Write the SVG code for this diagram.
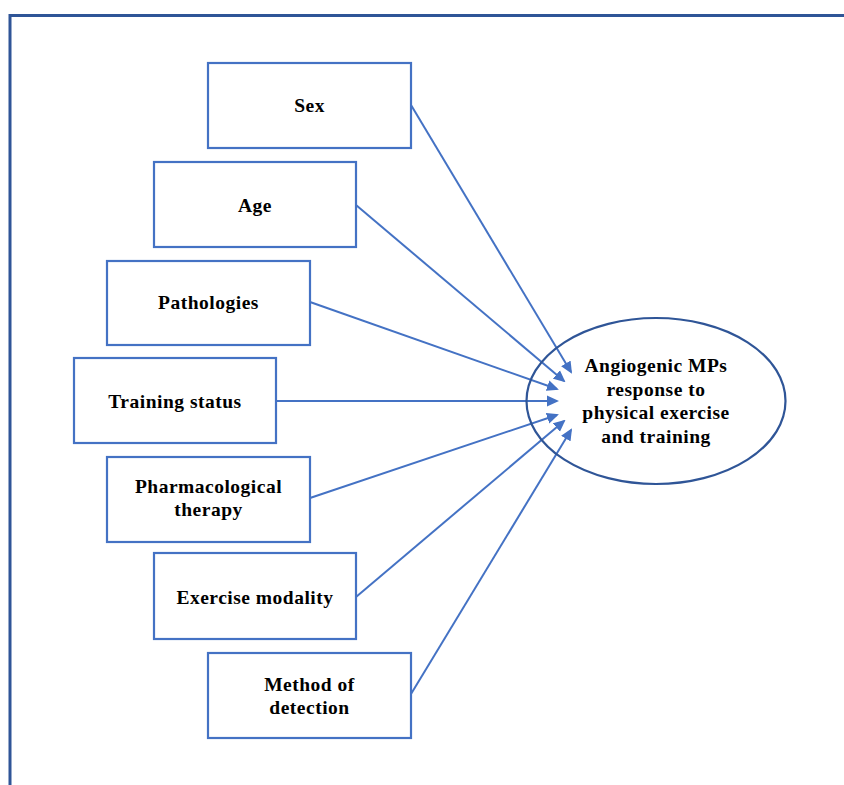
<svg xmlns="http://www.w3.org/2000/svg" width="844" height="785" viewBox="0 0 844 785">
<defs>
<style>
.box{fill:#fff;stroke:#4472C4;stroke-width:2.2}
.t{font-family:"Liberation Serif","Times New Roman",serif;font-weight:bold;font-size:19.5px;fill:#000;text-anchor:middle;letter-spacing:0.5px}
.c{stroke:#4472C4;stroke-width:2;fill:none;marker-end:url(#ah)}
</style>
<marker id="ah" markerWidth="12" markerHeight="12" refX="10" refY="6" orient="auto" markerUnits="userSpaceOnUse" viewBox="0 0 12 12">
<path d="M0,0.5 L12,6 L0,11.5 z" fill="#4472C4"/>
</marker>
</defs>
<rect width="844" height="785" fill="#fff"/>
<path d="M10,785 V15.5 H844" fill="none" stroke="#2F5597" stroke-width="3"/>
<g id="connectors">
<line class="c" x1="411" y1="105" x2="571" y2="372"/>
<line class="c" x1="356" y1="205" x2="564" y2="381"/>
<line class="c" x1="310" y1="302" x2="557" y2="389"/>
<line class="c" x1="276" y1="401" x2="557" y2="401"/>
<line class="c" x1="310" y1="498" x2="557" y2="415"/>
<line class="c" x1="356" y1="597" x2="564" y2="421"/>
<line class="c" x1="411" y1="694" x2="571" y2="430"/>
</g>
<g id="sex"><rect class="box" x="208" y="63" width="203" height="85"/><text class="t" x="309.5" y="112">Sex</text></g>
<g id="age"><rect class="box" x="154" y="162" width="202" height="85"/><text class="t" x="255" y="212">Age</text></g>
<g id="pathologies"><rect class="box" x="107" y="261" width="203" height="84"/><text class="t" x="208.5" y="309">Pathologies</text></g>
<g id="training-status"><rect class="box" x="74" y="358" width="202" height="85"/><text class="t" x="175" y="408">Training status</text></g>
<g id="pharmacological"><rect class="box" x="107" y="457" width="203" height="85"/><text class="t" x="208.5" y="493">Pharmacological</text><text class="t" x="208.5" y="516">therapy</text></g>
<g id="exercise-modality"><rect class="box" x="154" y="553" width="202" height="86"/><text class="t" x="255" y="604">Exercise modality</text></g>
<g id="method"><rect class="box" x="208" y="653" width="203" height="85"/><text class="t" x="309.5" y="691">Method of</text><text class="t" x="309.5" y="714">detection</text></g>
<g id="outcome"><ellipse cx="656" cy="401" rx="129.5" ry="83" fill="none" stroke="#2F5597" stroke-width="2.2"/>
<text class="t" x="656" y="372">Angiogenic MPs</text><text class="t" x="656" y="396">response to</text><text class="t" x="656" y="419">physical exercise</text><text class="t" x="656" y="443">and training</text></g>
</svg>
